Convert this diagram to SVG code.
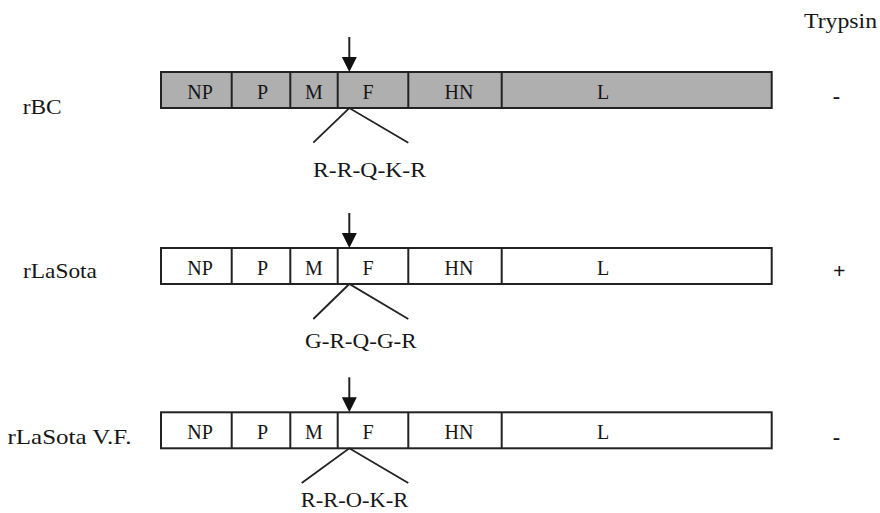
<svg xmlns="http://www.w3.org/2000/svg" width="880" height="513" viewBox="0 0 880 513">
  <style>
    text { font-family: "Liberation Serif", "Times New Roman", serif; fill: #161616; }
    .seg { stroke: #222; stroke-width: 2; }
    .gray { fill: #afafaf; }
    .white { fill: #ffffff; }
    .lbl { font-size: 20px; text-anchor: middle; }
    .big { font-size: 22px; }
    .line { stroke: #222; stroke-width: 1.8; fill: none; }
    .sign { font-size: 22px; font-weight: bold; text-anchor: middle; }
  </style>
  <defs>
    <!-- genome bar: segment borders and gene labels, relative to the bar top -->
    <g id="dividers">
      <line class="seg" x1="231.7" y1="0" x2="231.7" y2="36"/>
      <line class="seg" x1="290.3" y1="0" x2="290.3" y2="36"/>
      <line class="seg" x1="337.7" y1="0" x2="337.7" y2="36"/>
      <line class="seg" x1="408.3" y1="0" x2="408.3" y2="36"/>
      <line class="seg" x1="501.7" y1="0" x2="501.7" y2="36"/>
    </g>
    <g id="genes">
      <text class="lbl" x="200" y="27">NP</text>
      <text class="lbl" x="262.5" y="27">P</text>
      <text class="lbl" x="314" y="27">M</text>
      <text class="lbl" x="368" y="27">F</text>
      <text class="lbl" x="459" y="27">HN</text>
      <text class="lbl" x="603" y="27">L</text>
    </g>
    <!-- cleavage-site arrow, tip at (0,0) -->
    <g id="arrow">
      <line x1="0" y1="-35" x2="0" y2="-14" stroke="#222" stroke-width="2"/>
      <polygon points="-7.5,-15 7.5,-15 0,0" fill="#111"/>
    </g>
  </defs>

  <text class="big" x="804" y="28.3" textLength="73" lengthAdjust="spacingAndGlyphs">Trypsin</text>

  <!-- rBC -->
  <g id="row-rBC">
    <text class="big" x="22.7" y="114" textLength="39" lengthAdjust="spacingAndGlyphs">rBC</text>
    <g id="bar-rBC" transform="translate(0,72)">
      <rect class="seg gray" x="161" y="0" width="610.7" height="36"/>
      <use href="#dividers"/>
      <use href="#genes"/>
    </g>
    <text class="sign" x="836.5" y="103">-</text>
  </g>

  <!-- rLaSota -->
  <g id="row-rLaSota">
    <text class="big" x="23" y="278.3" textLength="74" lengthAdjust="spacingAndGlyphs">rLaSota</text>
    <g id="bar-rLaSota" transform="translate(0,248)">
      <rect class="seg white" x="161" y="0" width="610.7" height="36"/>
      <use href="#dividers"/>
      <use href="#genes"/>
    </g>
    <text class="sign" x="839.3" y="277.5">+</text>
  </g>

  <!-- rLaSota V.F. -->
  <g id="row-rLaSotaVF">
    <text class="big" x="7.5" y="444.3" textLength="124" lengthAdjust="spacingAndGlyphs">rLaSota V.F.</text>
    <g id="bar-rLaSotaVF" transform="translate(0,412.3)">
      <rect class="seg white" x="161" y="0" width="610.7" height="36"/>
      <use href="#dividers"/>
      <use href="#genes"/>
    </g>
    <text class="sign" x="836.5" y="443.5">-</text>
  </g>

  <!-- cleavage arrows and site call-outs -->
  <g id="connectors">
    <use href="#arrow" transform="translate(349.3,72)"/>
    <use href="#arrow" transform="translate(349.3,248)"/>
    <use href="#arrow" transform="translate(349.3,412.3)"/>
    <polyline class="line" points="313.3,142.7 349.3,108 408.3,142.7"/>
    <polyline class="line" points="313.3,319 349.3,284 408.3,319"/>
    <polyline class="line" points="301.7,483 349.3,448.3 408.3,483"/>
  </g>

  <g id="sites">
    <text class="big" x="313" y="177.3" textLength="113" lengthAdjust="spacingAndGlyphs">R-R-Q-K-R</text>
    <text class="big" x="305" y="347.7" textLength="111.7" lengthAdjust="spacingAndGlyphs">G-R-Q-G-R</text>
    <text class="big" x="300.7" y="507.3" textLength="107.6" lengthAdjust="spacingAndGlyphs">R-R-O-K-R</text>
  </g>
</svg>
